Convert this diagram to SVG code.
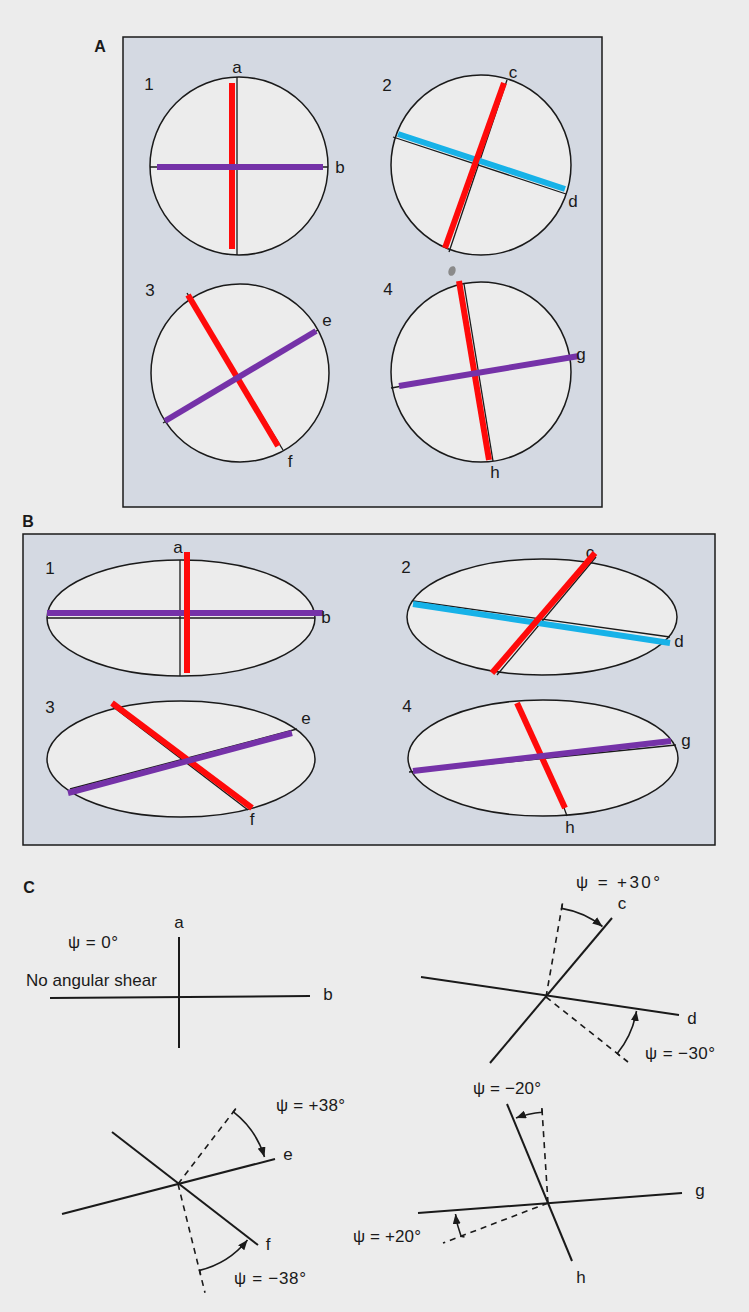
<svg xmlns="http://www.w3.org/2000/svg" width="749" height="1312" viewBox="0 0 749 1312">
<style>
text{font-family:"Liberation Sans",Arial,sans-serif;font-size:17px;fill:#1a1a1a}
.hd{font-weight:bold;font-size:16px}
.m{text-anchor:middle}
.panel{fill:#d4d9e2;stroke:#1a1a1a;stroke-width:1.5}
.disc{fill:#ececec;stroke:#1a1a1a;stroke-width:1.5}
.thin{stroke:#1a1a1a;stroke-width:1.3;fill:none}
.red{stroke:#ff0a0a;stroke-width:6;fill:none}
.pur{stroke:#7532a8;stroke-width:6;fill:none}
.blu{stroke:#17b2e8;stroke-width:6;fill:none}
.ax{stroke:#1a1a1a;stroke-width:2;fill:none}
.dash{stroke:#1a1a1a;stroke-width:1.6;stroke-dasharray:6 5;fill:none}
.arc{stroke:#1a1a1a;stroke-width:1.6;fill:none;marker-end:url(#ah)}
</style>
<defs>
<marker id="ah" viewBox="0 0 10 8" refX="10" refY="4" markerWidth="10" markerHeight="8" markerUnits="userSpaceOnUse" orient="auto">
<path d="M0,0 L10,4 L0,8 z" fill="#1a1a1a"/>
</marker>
</defs>
<rect width="749" height="1312" fill="#ececec"/>

<!-- Panel A -->
<g id="panelA">
<rect class="panel" x="123" y="37" width="479" height="470"/>
<text class="hd m" x="100" y="52">A</text>
</g>
<g id="A1">
<circle class="disc" cx="239" cy="166" r="89"/>
<line class="thin" x1="237" y1="77" x2="237" y2="255"/>
<line class="thin" x1="150" y1="167" x2="328" y2="167"/>
<line class="red" x1="232" y1="83" x2="232" y2="249"/>
<line class="pur" x1="157" y1="167" x2="323" y2="167"/>
<text x="149" y="90" class="m">1</text>
<text x="237" y="73" class="m">a</text>
<text x="340" y="173" class="m">b</text>
</g>
<g id="A2">
<circle class="disc" cx="481" cy="165" r="90"/>
<line class="thin" x1="393" y1="137" x2="566" y2="194"/>
<line class="thin" x1="507" y1="80" x2="449" y2="252"/>
<line class="blu" x1="398" y1="134" x2="565" y2="189"/>
<line class="red" x1="504" y1="83" x2="445" y2="248"/>
<text x="387" y="91" class="m">2</text>
<text x="513" y="78" class="m">c</text>
<text x="573" y="207" class="m">d</text>
</g>
<ellipse cx="452" cy="271" rx="3.5" ry="5" fill="#8a8a8a" transform="rotate(20 452 271)"/>
<g id="A3">
<circle class="disc" cx="240" cy="373" r="89"/>
<line class="thin" x1="187" y1="293" x2="283" y2="450"/>
<line class="thin" x1="163" y1="423" x2="318" y2="330"/>
<line class="red" x1="188" y1="295" x2="278" y2="446"/>
<line class="pur" x1="165" y1="421" x2="316" y2="331"/>
<text x="150" y="296" class="m">3</text>
<text x="327" y="326" class="m">e</text>
<text x="290" y="467" class="m">f</text>
</g>
<g id="A4">
<circle class="disc" cx="481" cy="372" r="90"/>
<line class="thin" x1="464" y1="284" x2="493" y2="461"/>
<line class="thin" x1="391" y1="388" x2="572" y2="357"/>
<line class="red" x1="459" y1="281" x2="489" y2="460"/>
<line class="pur" x1="399" y1="386" x2="579" y2="356"/>
<text x="388" y="295" class="m">4</text>
<text x="581" y="360" class="m">g</text>
<text x="495" y="478" class="m">h</text>
</g>

<!-- Panel B -->
<g id="panelB">
<rect class="panel" x="23" y="534" width="692" height="311"/>
<text class="hd m" x="28" y="527">B</text>
</g>
<g id="B1">
<ellipse class="disc" cx="181" cy="618" rx="134" ry="58"/>
<line class="thin" x1="180" y1="560" x2="180" y2="676"/>
<line class="thin" x1="47" y1="618" x2="315" y2="618"/>
<line class="pur" x1="47" y1="613" x2="323" y2="613"/>
<line class="red" x1="187" y1="552" x2="187" y2="673"/>
<text x="50" y="574" class="m">1</text>
<text x="178" y="553" class="m">a</text>
<text x="326" y="623" class="m">b</text>
</g>
<g id="B2">
<ellipse class="disc" cx="542" cy="617" rx="135" ry="58"/>
<line class="thin" x1="413" y1="601" x2="670" y2="637"/>
<line class="thin" x1="596" y1="557" x2="497" y2="675"/>
<text x="590" y="558" class="m">c</text>
<line class="blu" x1="413" y1="604" x2="670" y2="643"/>
<line class="red" x1="595" y1="553" x2="492" y2="673"/>
<text x="406" y="573" class="m">2</text>
<text x="679" y="647" class="m">d</text>
</g>
<g id="B3">
<ellipse class="disc" cx="181" cy="759" rx="134" ry="58"/>
<line class="thin" x1="112" y1="706" x2="248" y2="810"/>
<line class="thin" x1="70" y1="789" x2="297" y2="729"/>
<line class="red" x1="112" y1="703" x2="252" y2="808"/>
<line class="pur" x1="68" y1="793" x2="292" y2="733"/>
<text x="50" y="713" class="m">3</text>
<text x="306" y="724" class="m">e</text>
<text x="252" y="825" class="m">f</text>
</g>
<g id="B4">
<ellipse class="disc" cx="543" cy="758" rx="135" ry="58"/>
<line class="thin" x1="563" y1="805" x2="567" y2="816"/>
<line class="thin" x1="409" y1="772" x2="676" y2="745"/>
<line class="red" x1="517" y1="703" x2="565" y2="808"/>
<line class="pur" x1="413" y1="771" x2="671" y2="741"/>
<text x="407" y="712" class="m">4</text>
<text x="686" y="746" class="m">g</text>
<text x="570" y="833" class="m">h</text>
</g>

<!-- Panel C -->
<text class="hd m" x="29" y="893">C</text>
<g id="C1">
<line class="ax" x1="179" y1="937" x2="179" y2="1048"/>
<line class="ax" x1="50" y1="998" x2="310" y2="996"/>
<text x="179" y="928" class="m">a</text>
<text x="328" y="1000" class="m">b</text>
<text x="68" y="948" textLength="50" lengthAdjust="spacing">ψ = 0°</text>
<text x="26" y="986" textLength="131" lengthAdjust="spacing">No angular shear</text>
</g>
<g id="C2">
<line class="ax" x1="490" y1="1063" x2="612" y2="918"/>
<line class="ax" x1="421" y1="977" x2="679" y2="1015"/>
<line class="dash" x1="546" y1="997" x2="562.5" y2="903.4"/>
<line class="dash" x1="546" y1="997" x2="628" y2="1062"/>
<path class="arc" d="M562.5,903.4 L561.6,908.4 A90,90 0 0 1 602.5,926.5"/>
<path class="arc" d="M620,1056 L617.3,1053.5 A91,91 0 0 0 636.5,1011"/>
<text x="576" y="888" textLength="84" lengthAdjust="spacing">ψ = +30°</text>
<text x="622" y="909" class="m">c</text>
<text x="692" y="1024" class="m">d</text>
<text x="645" y="1059" textLength="70" lengthAdjust="spacing">ψ = −30°</text>
</g>
<g id="C3">
<line class="ax" x1="62" y1="1214" x2="275" y2="1159"/>
<line class="ax" x1="112" y1="1132" x2="258" y2="1245"/>
<line class="dash" x1="178" y1="1184" x2="235.8" y2="1108.6"/>
<line class="dash" x1="178" y1="1184" x2="205" y2="1292.7"/>
<path class="arc" d="M235.8,1108.6 L233.4,1111.8 A91,91 0 0 1 264.5,1157"/>
<path class="arc" d="M200.5,1274.3 L199.5,1270.4 A89,89 0 0 0 247.5,1240"/>
<text x="276" y="1111" textLength="69" lengthAdjust="spacing">ψ = +38°</text>
<text x="288" y="1160" class="m">e</text>
<text x="268" y="1250" class="m">f</text>
<text x="234" y="1284" textLength="72" lengthAdjust="spacing">ψ = −38°</text>
</g>
<g id="C4">
<line class="ax" x1="507" y1="1104" x2="572" y2="1261"/>
<line class="ax" x1="418" y1="1213" x2="682" y2="1193"/>
<line class="dash" x1="548" y1="1203" x2="541.9" y2="1108"/>
<line class="dash" x1="548" y1="1203" x2="443" y2="1243"/>
<path class="arc" d="M541.9,1108 L542.1,1112.2 A91,91 0 0 0 516,1118"/>
<path class="arc" d="M464.5,1237 L461.1,1236.2 A93,93 0 0 1 455.5,1214"/>
<text x="473" y="1094" textLength="68" lengthAdjust="spacing">ψ = −20°</text>
<text x="700" y="1196" class="m">g</text>
<text x="581" y="1283" class="m">h</text>
<text x="353" y="1242" textLength="68" lengthAdjust="spacing">ψ = +20°</text>
</g>
</svg>
